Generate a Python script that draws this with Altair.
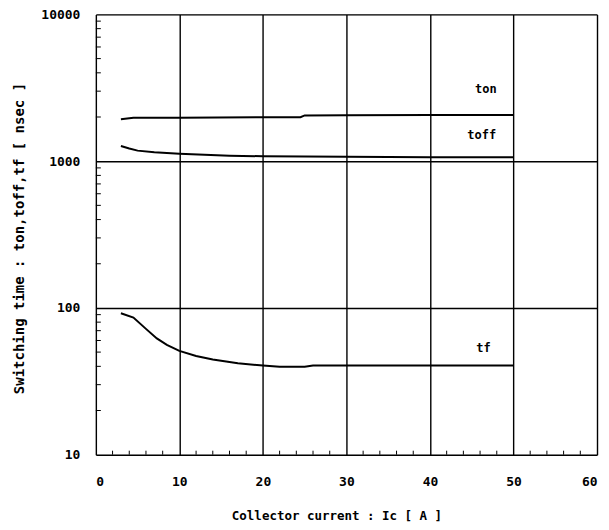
import altair as alt
import pandas as pd

# ---- data ----
ton_x = [3, 4.5, 10, 20, 24.5, 25, 30, 40, 50]
ton_y = [1930, 1975, 1980, 1990, 1995, 2050, 2058, 2060, 2060]

toff_x = [3, 4, 5, 7, 10, 13, 16, 20, 25, 30, 40, 50]
toff_y = [1270, 1220, 1180, 1150, 1125, 1105, 1090, 1080, 1075, 1070, 1065, 1065]

tf_x = [3, 4.5, 6, 7.3, 8.5, 10, 12, 14, 17, 20, 22, 25, 26, 30, 40, 50]
tf_y = [92, 86, 72, 62, 56, 51, 47, 44.5, 42, 40.5, 39.7, 39.7, 40.5, 40.5, 40.5, 40.5]

label_text = ["ton", "toff", "tf"]
label_x = [46.7, 46.2, 46.4]
label_y = [3080, 1507, 53]

x_ticks = [0, 10, 20, 30, 40, 50, 60]
y_ticks = [10, 100, 1000, 10000]
minor_x = [v for v in range(2, 60, 2) if v % 10 != 0]
minor_y = [m * d for d in (10, 100, 1000) for m in range(2, 10)]

FONT = "DejaVu Sans Mono"
W, H = 502, 441

rows = []
for name, xs, ys in (("ton", ton_x, ton_y), ("toff", toff_x, toff_y), ("tf", tf_x, tf_y)):
    for a, b in zip(xs, ys):
        rows.append({"series": name, "x": a, "y": b})
df = pd.DataFrame(rows)
lab = pd.DataFrame({"text": label_text, "x": label_x, "y": label_y})
mx = pd.DataFrame({"x": minor_x})
my = pd.DataFrame({"y": minor_y})

xscale = alt.Scale(domain=[0, 60], nice=False, zero=False)
yscale = alt.Scale(type="log", domain=[10, 10000], nice=False)

xaxis = alt.Axis(values=x_ticks, title="Collector current : Ic [ A ]", grid=True,
                 gridColor="black", gridWidth=1.4, gridOpacity=1, ticks=False, domain=False,
                 labelPadding=21, labelFont=FONT, labelFontSize=13, labelFontWeight="bold",
                 labelColor="black", titleFont=FONT, titleFontSize=12.5, titleFontWeight="bold",
                 titleColor="black", titleY=61, titleX=241, titleBaseline="middle")
yaxis = alt.Axis(values=y_ticks, title="Switching time : ton,toff,tf [ nsec ]", grid=True,
                 gridColor="black", gridWidth=1.4, gridOpacity=1, ticks=False, domain=False,
                 labelPadding=16, format="d", labelFont=FONT, labelFontSize=13,
                 labelFontWeight="bold", labelColor="black", titleFont=FONT, titleFontSize=14,
                 titleFontWeight="bold", titleColor="black", titleX=-76, titleY=224,
                 titleAngle=270, titleAlign="center", titleBaseline="middle")

lines = alt.Chart(df).mark_line(color="black", strokeWidth=2).encode(
    x=alt.X("x:Q", scale=xscale, axis=xaxis),
    y=alt.Y("y:Q", scale=yscale, axis=yaxis),
    detail="series:N",
)

labels = alt.Chart(lab).mark_text(font=FONT, fontSize=12, fontWeight="bold", color="black").encode(
    x=alt.X("x:Q", scale=xscale),
    y=alt.Y("y:Q", scale=yscale),
    text="text:N",
)

minor_xt = alt.Chart(mx).mark_rule(color="black", strokeWidth=1).encode(
    x=alt.X("x:Q", scale=xscale),
    y=alt.value(H),
    y2=alt.value(H - 4),
)
minor_yt = alt.Chart(my).mark_rule(color="black", strokeWidth=1).encode(
    y=alt.Y("y:Q", scale=yscale),
    x=alt.value(0),
    x2=alt.value(5),
)

chart = alt.layer(minor_xt, minor_yt, lines, labels).properties(
    width=W, height=H,
    autosize=alt.AutoSizeParams(type="none"),
    padding={"left": 88, "top": 6, "right": 4, "bottom": 70},
).configure_view(stroke="black", strokeWidth=1.6).configure(background="white")

chart.save("out.html", embed_options={"renderer": "svg", "actions": False})
